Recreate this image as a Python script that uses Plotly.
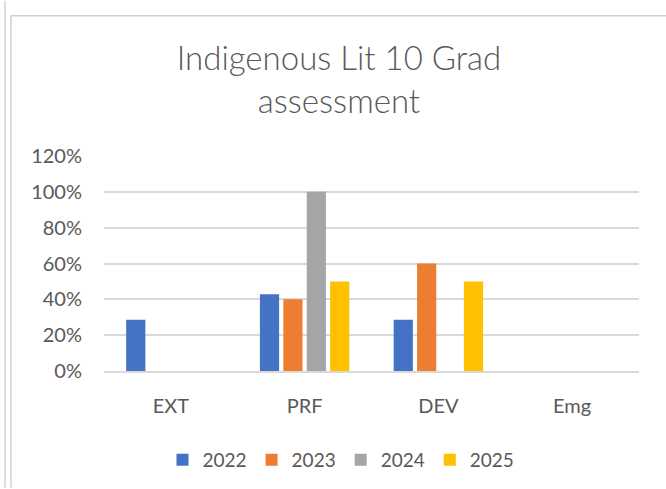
import plotly.graph_objects as go

categories = ["EXT", "PRF", "DEV", "Emg"]
years = ["2022", "2023", "2024", "2025"]
v2022 = [0.2857, 0.4286, 0.2857, None]
v2023 = [None, 0.40, 0.60, None]
v2024 = [None, 1.00, None, None]
v2025 = [None, 0.50, 0.50, None]
colors = ["#4472C4", "#ED7D31", "#A5A5A5", "#FFC000"]

W, H = 666, 489
L, R, T, B = 104, 27, 156, 117
pw, ph = W - L - R, H - T - B

def px_x(x):
    return (x - L) / pw

def px_y(y):
    return (H - B - y) / ph

fig = go.Figure()
for name, vals, c in zip(years, [v2022, v2023, v2024, v2025], colors):
    fig.add_trace(go.Bar(x=categories, y=vals, name=name, marker_color=c,
                         marker_line_width=0))

font = "Lato, 'Noto Sans', sans-serif"
grey = "#595959"
fig.update_layout(
    width=W, height=H,
    margin=dict(l=L, r=R, t=T, b=B),
    paper_bgcolor="white", plot_bgcolor="white",
    font=dict(family=font, color=grey, size=20),
    barmode="group", bargap=0.3, bargroupgap=0.18,
    title=dict(text="Indigenous Lit 10 Grad<br>assessment", x=339 / W, xanchor="center",
               y=1 - 70 / H, yanchor="middle",
               font=dict(size=33, color=grey, weight=300)),
    legend=dict(orientation="h", xref="paper", x=px_x(341), xanchor="center",
                y=px_y(460), yanchor="middle", font=dict(size=19),
                itemwidth=30, traceorder="normal"),
)
fig.update_yaxes(range=[0, 1.2], dtick=0.2, tickformat=".0%", showgrid=True,
                 gridcolor="#D9D9D9", gridwidth=1.5, zeroline=False,
                 showline=False, ticklabelstandoff=21)
fig.update_xaxes(showline=True, linecolor="#D9D9D9", linewidth=1.5,
                 ticks="", ticklabelstandoff=16)

# outer chart frame
line = dict(color="#D0D0D0", width=1.5)
fig.add_shape(type="line", xref="paper", yref="paper", x0=px_x(5), x1=px_x(5),
              y0=px_y(0), y1=px_y(H), line=line)
fig.add_shape(type="line", xref="paper", yref="paper", x0=px_x(11), x1=px_x(11),
              y0=px_y(15), y1=px_y(H), line=line)
fig.add_shape(type="line", xref="paper", yref="paper", x0=px_x(11), x1=px_x(W),
              y0=px_y(15), y1=px_y(15), line=line)

# page body has a default 8px margin; drop it so the figure sits at 0,0
fig.write_html("out.html", config={"displayModeBar": False},
               post_script="document.body.style.margin='0';")
